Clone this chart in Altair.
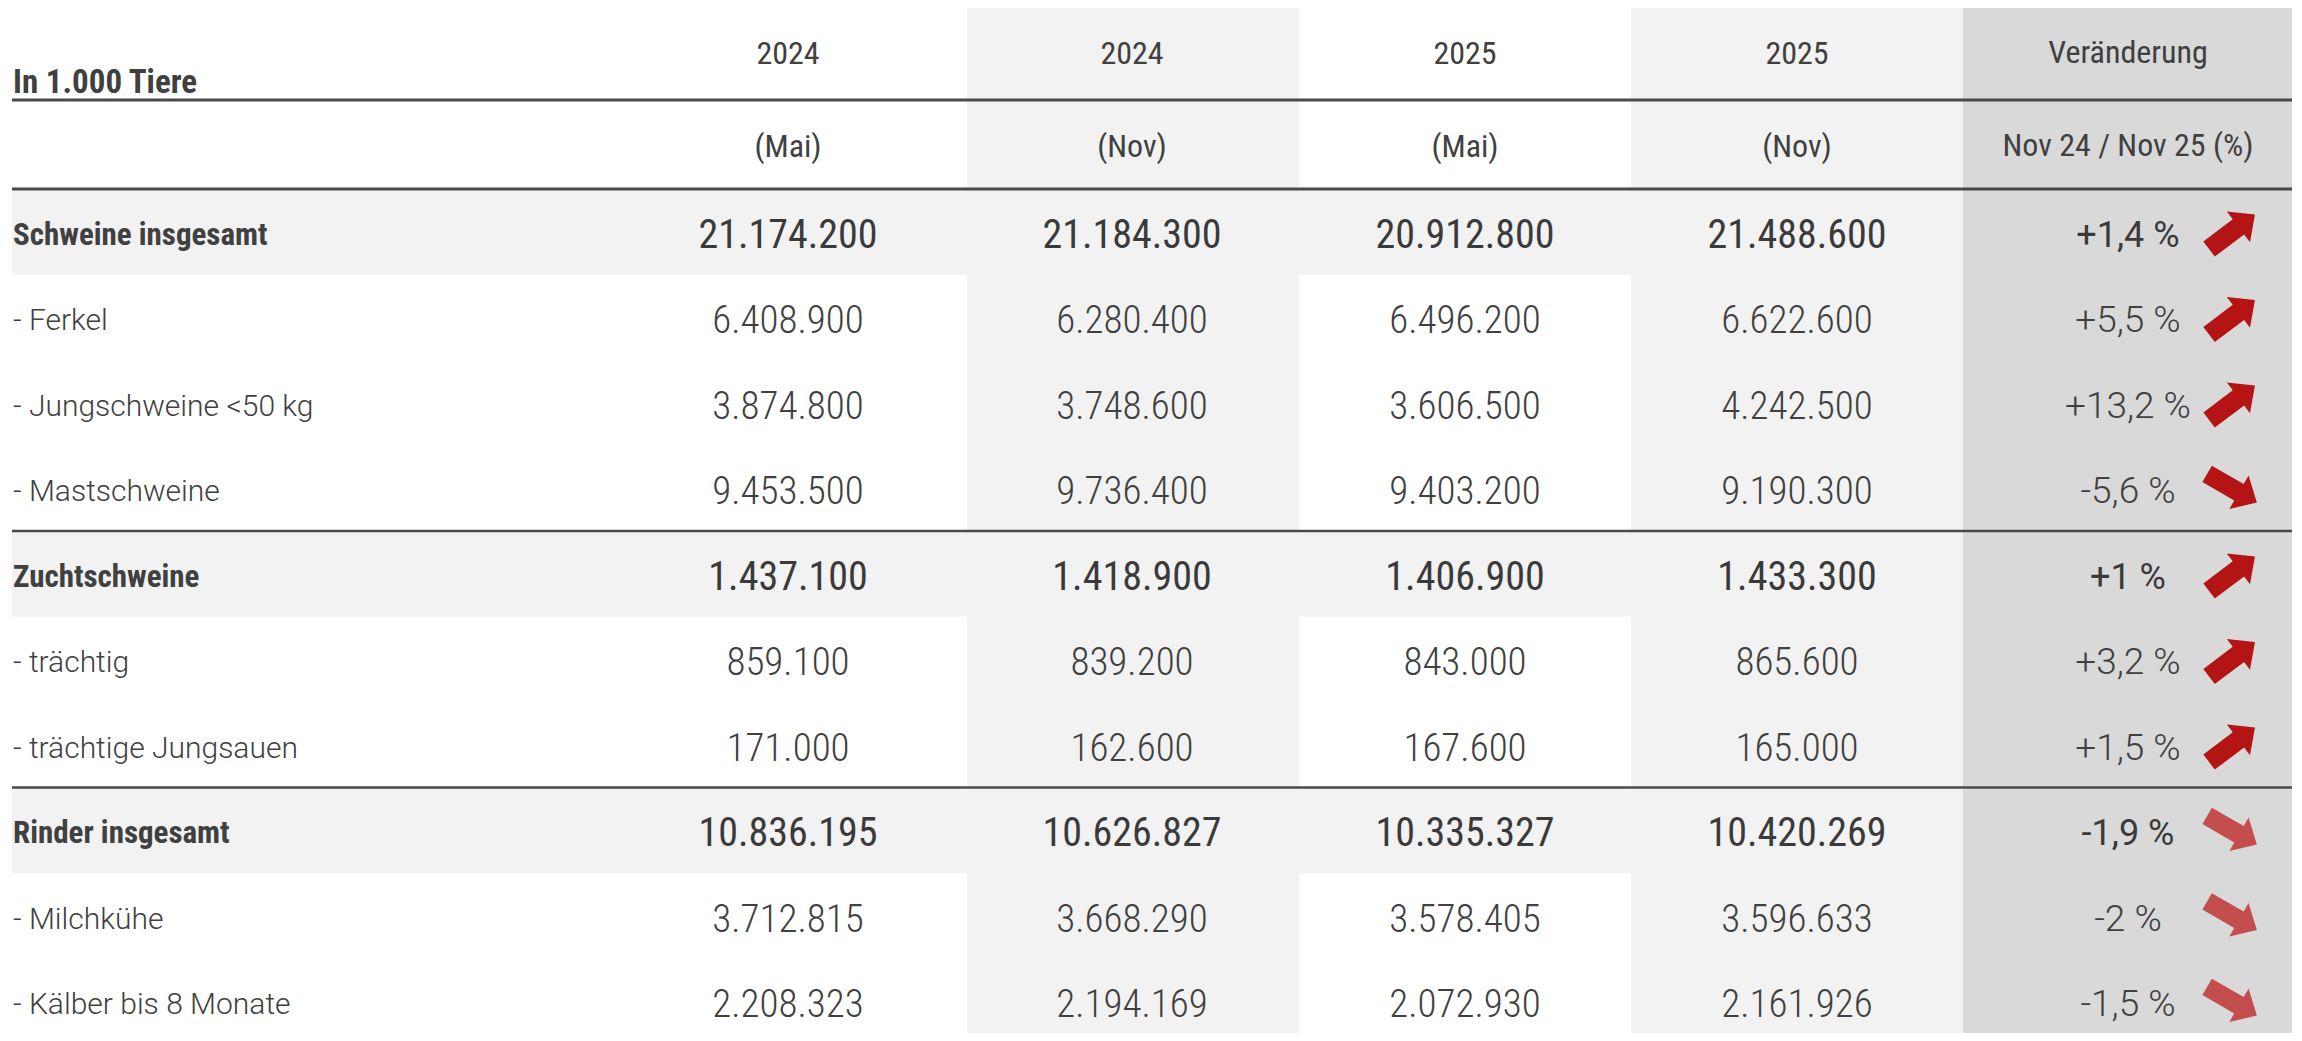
import altair as alt
import pandas as pd

# ---------------- data ----------------
labels = ["Schweine insgesamt", "- Ferkel", "- Jungschweine <50 kg", "- Mastschweine",
          "Zuchtschweine", "- trächtig", "- trächtige Jungsauen",
          "Rinder insgesamt", "- Milchkühe", "- Kälber bis 8 Monate"]
bold_rows = [True, False, False, False, True, False, False, True, False, False]
groups = ["Schweine"] * 7 + ["Rinder"] * 3
mai24 = [21174200, 6408900, 3874800, 9453500, 1437100, 859100, 171000, 10836195, 3712815, 2208323]
nov24 = [21184300, 6280400, 3748600, 9736400, 1418900, 839200, 162600, 10626827, 3668290, 2194169]
mai25 = [20912800, 6496200, 3606500, 9403200, 1406900, 843000, 167600, 10335327, 3578405, 2072930]
nov25 = [21488600, 6622600, 4242500, 9190300, 1433300, 865600, 165000, 10420269, 3596633, 2161926]
change_pct = [1.4, 5.5, 13.2, -5.6, 1.0, 3.2, 1.5, -1.9, -2.0, -1.5]
col_years = ["2024", "2024", "2025", "2025"]
col_months = ["(Mai)", "(Nov)", "(Mai)", "(Nov)"]
corner_title = "In 1.000 Tiere"
change_title = "Veränderung"
change_sub = "Nov 24 / Nov 25 (%)"
group_sep_after = [3, 6]   # separator line below these rows


def de(n):
    return f"{n:,}".replace(",", ".")


def pct(v):
    s = f"{abs(v):.1f}".replace(".", ",")
    if s.endswith(",0"):
        s = s[:-2]
    return ("+" if v > 0 else "-") + s + " %"


# ---------------- layout ----------------
ROW0, ROW_H = 189.0, 85.5          # top of first body row, row pitch (px of page)


def U(px):
    return (px - ROW0) / ROW_H


U_TOP, U_BOT = U(8), U(1033)
X_LABEL = 13
VAL_X = [788, 1132, 1465, 1797]
CHG_X = 2128
ARROW_X = 2232
TABLE_L, TABLE_R = 12, 2292
BAND_TOP = U(7)
ROW_DY = 4

COND = "Roboto Condensed, Roboto"
NORM = "Roboto"
TXT = "#404040"

xs = alt.Scale(domain=[8, 2294], nice=False, zero=False)
ys = alt.Scale(domain=[U_TOP, U_BOT], nice=False, zero=False, reverse=True)

# ---------------- tables ----------------
rows = pd.DataFrame({
    "label": labels, "bold": bold_rows, "group": groups,
    "u": [i + 0.5 for i in range(len(labels))],
    "u1": [i for i in range(len(labels))],
    "u2": [i + 1 for i in range(len(labels))],
    "chg": [pct(v) for v in change_pct],
    "angle": [323 if v > 0 else 30 for v in change_pct],
})
rows["x"] = X_LABEL
rows["cx"] = CHG_X
rows["ax"] = ARROW_X
rows["tl"] = TABLE_L
rows["tr"] = TABLE_R

cells = []
for k, series in enumerate([mai24, nov24, mai25, nov25]):
    for i, v in enumerate(series):
        cells.append({"x": VAL_X[k], "u": i + 0.5, "text": de(v), "bold": bold_rows[i]})
cells = pd.DataFrame(cells)

bands = pd.DataFrame([
    {"x": 967, "x2": 1299, "u1": BAND_TOP, "u2": U_BOT, "c": "#f2f2f2"},
    {"x": 1631, "x2": 1963, "u1": BAND_TOP, "u2": U_BOT, "c": "#f2f2f2"},
    {"x": 1963, "x2": 2292, "u1": BAND_TOP, "u2": U_BOT, "c": "#d9d9d9"},
])

rules = pd.DataFrame([
    {"u": U(100), "sw": 3.0},
    {"u": 0.0, "sw": 3.0},
] + [{"u": r + 1.0, "sw": 2.5} for r in group_sep_after])
rules["x"] = TABLE_L
rules["x2"] = TABLE_R

head = pd.DataFrame(
    [{"x": VAL_X[k], "u": U(54), "t": col_years[k]} for k in range(4)]
    + [{"x": VAL_X[k], "u": U(147), "t": col_months[k]} for k in range(4)]
    + [{"x": CHG_X, "u": U(53), "t": change_title},
       {"x": CHG_X, "u": U(146), "t": change_sub}]
)
corner = pd.DataFrame([{"x": X_LABEL, "u": U(83), "t": corner_title}])

# ---------------- layers ----------------
row_band = alt.Chart(rows).transform_filter("datum.bold").mark_rect(color="#f2f2f2").encode(
    x=alt.X("tl:Q", scale=xs, axis=None), x2="tr:Q",
    y=alt.Y("u1:Q", scale=ys, axis=None), y2="u2:Q")

col_band = alt.Chart(bands).mark_rect().encode(
    x=alt.X("x:Q", scale=xs, axis=None), x2="x2:Q",
    y=alt.Y("u1:Q", scale=ys, axis=None), y2="u2:Q",
    color=alt.Color("c:N", scale=None))

rule_l = alt.Chart(rules).mark_rule(color="#4a4a4a").encode(
    x=alt.X("x:Q", scale=xs, axis=None), x2="x2:Q",
    y=alt.Y("u:Q", scale=ys, axis=None),
    strokeWidth=alt.StrokeWidth("sw:Q", scale=None))

head_t = alt.Chart(head).mark_text(font=COND, fontSize=32, color=TXT, align="center",
                                   baseline="middle").encode(
    x=alt.X("x:Q", scale=xs, axis=None), y=alt.Y("u:Q", scale=ys, axis=None), text="t:N")

corner_t = alt.Chart(corner).mark_text(font=COND, fontSize=33, fontWeight="bold", color=TXT,
                                       align="left", baseline="middle").encode(
    x=alt.X("x:Q", scale=xs, axis=None), y=alt.Y("u:Q", scale=ys, axis=None), text="t:N")

lab_b = alt.Chart(rows).transform_filter("datum.bold").mark_text(
    font=COND, fontSize=31, fontWeight="bold", color=TXT, align="left", baseline="middle",
    dy=ROW_DY).encode(
    x=alt.X("x:Q", scale=xs, axis=None), y=alt.Y("u:Q", scale=ys, axis=None), text="label:N")

lab_r = alt.Chart(rows).transform_filter("!datum.bold").mark_text(
    font=NORM, fontSize=30, fontWeight=300, color=TXT, align="left", baseline="middle",
    dy=ROW_DY).encode(
    x=alt.X("x:Q", scale=xs, axis=None), y=alt.Y("u:Q", scale=ys, axis=None), text="label:N")

val_b = alt.Chart(cells).transform_filter("datum.bold").mark_text(
    font=COND, fontSize=40, fontWeight=400, color="#3a3a3a", align="center", baseline="middle",
    dy=ROW_DY).encode(
    x=alt.X("x:Q", scale=xs, axis=None), y=alt.Y("u:Q", scale=ys, axis=None), text="text:N")

val_r = alt.Chart(cells).transform_filter("!datum.bold").mark_text(
    font=COND, fontSize=39, fontWeight=300, color=TXT, align="center", baseline="middle",
    dy=ROW_DY).encode(
    x=alt.X("x:Q", scale=xs, axis=None), y=alt.Y("u:Q", scale=ys, axis=None), text="text:N")

chg_b = alt.Chart(rows).transform_filter("datum.bold").mark_text(
    font=NORM, fontSize=36, fontWeight=400, color="#3a3a3a", align="center", baseline="middle",
    dy=ROW_DY).encode(
    x=alt.X("cx:Q", scale=xs, axis=None), y=alt.Y("u:Q", scale=ys, axis=None), text="chg:N")

chg_r = alt.Chart(rows).transform_filter("!datum.bold").mark_text(
    font=NORM, fontSize=37, fontWeight=300, color=TXT, align="center", baseline="middle",
    dy=ROW_DY).encode(
    x=alt.X("cx:Q", scale=xs, axis=None), y=alt.Y("u:Q", scale=ys, axis=None), text="chg:N")

ARROW = "M -1 -0.33 L 0.28 -0.33 L 0.28 -0.67 L 1 0 L 0.28 0.67 L 0.28 0.33 L -1 0.33 Z"
arrows = alt.Chart(rows).mark_point(shape=ARROW, filled=True, size=3300, opacity=1,
                                    strokeWidth=0).encode(
    x=alt.X("ax:Q", scale=xs, axis=None), y=alt.Y("u:Q", scale=ys, axis=None),
    angle=alt.Angle("angle:Q", scale=None),
    color=alt.Color("group:N", scale=alt.Scale(domain=["Schweine", "Rinder"],
                                               range=["#b51414", "#c44e4e"]), legend=None))

chart = alt.layer(row_band, col_band, rule_l, head_t, corner_t, lab_b, lab_r,
                  val_b, val_r, chg_b, chg_r, arrows).properties(
    width=2286, height=1025, padding=0, autosize=alt.AutoSizeParams(type="none")
).configure_view(stroke=None)

chart.save("out.html", embed_options={"renderer": "svg", "actions": False})
